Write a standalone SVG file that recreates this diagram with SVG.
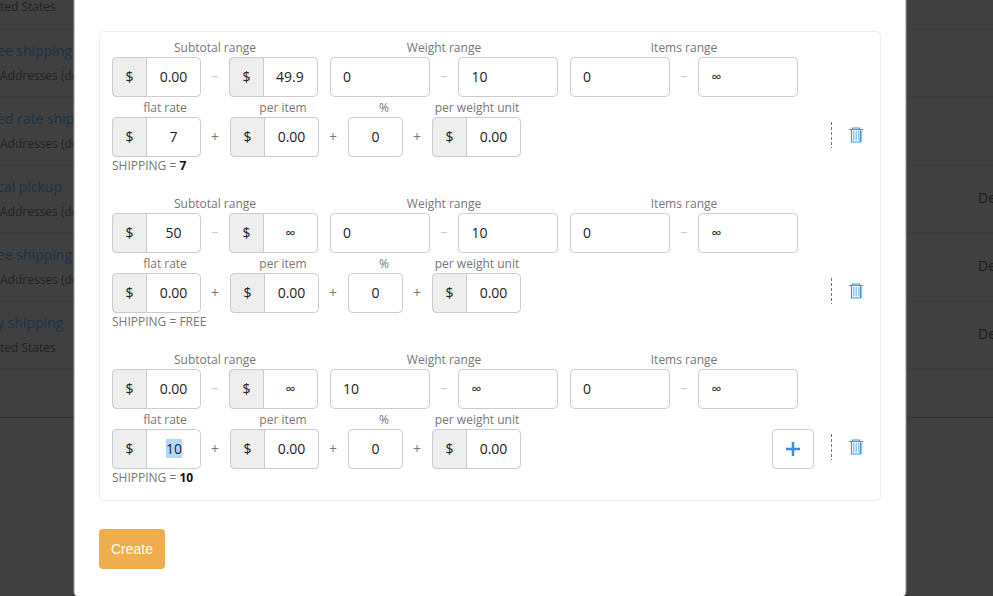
<svg xmlns="http://www.w3.org/2000/svg" width="993" height="596" viewBox="0 0 993 596">
<style>
text{font-family:"Open Sans","Noto Sans",sans-serif}
.bgl{font-size:14px;fill:#1a3347}
.bgs{font-size:12px;fill:#222}
.bgd{font-size:14px;fill:#1c1c1c}
.sep{stroke:#3a3a3a;stroke-width:1}
.lab{font-size:12px;fill:#777;text-anchor:middle}
.sh{font-size:12px;fill:#777}
.sh tspan{font-weight:700;fill:#111}
.v{font-size:14px;fill:#222;text-anchor:middle}
.vl{font-size:14px;fill:#222}
.inf{font-size:14px;fill:#222;text-anchor:middle}
.d{font-size:14px;fill:#ccc;text-anchor:middle}
.p{font-size:14px;fill:#777;text-anchor:middle}
.box{fill:#fff;stroke:#ccc;stroke-width:1}
.add{fill:#eee;stroke:#ccc;stroke-width:1}
.dash{stroke:#777;stroke-width:1;stroke-dasharray:3 2}
.tr{fill:none;stroke:#3f96e0;stroke-width:1.2}
.trf{fill:#8fc4ee}
</style>
<defs>
<g id="trash">
<path class="tr" d="M849 129.500H863M852.500 129V128H859.500V129M851.500 130V142H860.500V130"/>
<rect class="trf" x="853" y="131" width="1.500" height="9.500"/>
<rect class="trf" x="855.500" y="131" width="1.500" height="9.500"/>
<rect class="trf" x="858" y="131" width="1.500" height="9.500"/>
<rect class="trf" x="861" y="131" width="1.200" height="11"/>
</g>
</defs>
<rect width="993" height="596" fill="#404040"/>
<g id="background">
<path class="sep" d="M0 28.500H993M0 96.500H993M0 164.500H993M0 232.500H993M0 300.500H993M0 368.500H993"/>
<path d="M0 417.500H993" stroke="#333" stroke-width="1"/>
<text class="bgs" x="0" y="11">ted States</text>
<text class="bgl" x="-3" y="56">ee shipping</text>
<text class="bgs" x="0" y="80">Addresses (de</text>
<text class="bgl" x="-3" y="124">ed rate ship</text>
<text class="bgs" x="0" y="148">Addresses (de</text>
<text class="bgl" x="-3" y="192">cal pickup</text>
<text class="bgs" x="0" y="216">Addresses (de</text>
<text class="bgl" x="-3" y="260">ee shipping</text>
<text class="bgs" x="0" y="284">Addresses (de</text>
<text class="bgl" x="-3" y="328">y shipping</text>
<text class="bgs" x="0" y="352">ted States</text>
<text class="bgd" x="978" y="203">De</text>
<text class="bgd" x="978" y="271">De</text>
<text class="bgd" x="978" y="339">De</text>
</g>
<g id="modal">
<rect x="74" y="-20" width="832" height="617" rx="5" fill="#fff" stroke="#999" stroke-width="1"/>
<rect x="99.500" y="31.500" width="781" height="469" rx="4" fill="#fff" stroke="#eee"/>
</g>
<g id="connectors"></g>

<g id="row1">
<text class="lab" x="215" y="52">Subtotal range</text>
<text class="lab" x="444" y="52">Weight range</text>
<text class="lab" x="684" y="52">Items range</text>
<rect class="box" x="112.500" y="57.500" width="88" height="39" rx="4"/>
<path class="add" d="M146.500 57.500H116.500a4 4 0 0 0-4 4V92.500a4 4 0 0 0 4 4H146.500Z"/>
<text class="v" x="129.500" y="82">$</text>
<text class="v" x="173.500" y="82">0.00</text>
<text class="d" x="215" y="81">–</text>
<rect class="box" x="229.500" y="57.500" width="88" height="39" rx="4"/>
<path class="add" d="M263.500 57.500H233.500a4 4 0 0 0-4 4V92.500a4 4 0 0 0 4 4H263.500Z"/>
<text class="v" x="246.500" y="82">$</text>
<text class="vl" x="276" y="82">49.9</text>
<rect class="box" x="330.500" y="57.500" width="99" height="39" rx="4"/>
<text class="vl" x="343" y="82">0</text>
<text class="d" x="444" y="81">–</text>
<rect class="box" x="458.500" y="57.500" width="99" height="39" rx="4"/>
<text class="vl" x="471.500" y="82">10</text>
<rect class="box" x="570.500" y="57.500" width="99" height="39" rx="4"/>
<text class="vl" x="583" y="82">0</text>
<text class="d" x="684" y="81">–</text>
<rect class="box" x="698.500" y="57.500" width="99" height="39" rx="4"/>
<text class="inf" x="716.500" y="82">∞</text>
<text class="lab" x="165" y="112">flat rate</text>
<text class="lab" x="283" y="112">per item</text>
<text class="lab" x="384" y="112">%</text>
<text class="lab" x="477" y="112">per weight unit</text>
<rect class="box" x="112.500" y="117.500" width="88" height="39" rx="4"/>
<path class="add" d="M146.500 117.500H116.500a4 4 0 0 0-4 4V152.500a4 4 0 0 0 4 4H146.500Z"/>
<text class="v" x="129.500" y="142">$</text>
<text class="v" x="173.500" y="142">7</text>
<text class="p" x="215" y="142">+</text>
<rect class="box" x="230.500" y="117.500" width="88" height="39" rx="4"/>
<path class="add" d="M264.500 117.500H234.500a4 4 0 0 0-4 4V152.500a4 4 0 0 0 4 4H264.500Z"/>
<text class="v" x="247.500" y="142">$</text>
<text class="v" x="291.500" y="142">0.00</text>
<text class="p" x="333" y="142">+</text>
<rect class="box" x="348.500" y="117.500" width="54" height="39" rx="4"/>
<text class="v" x="375.500" y="142">0</text>
<text class="p" x="417" y="142">+</text>
<rect class="box" x="432.500" y="117.500" width="88" height="39" rx="4"/>
<path class="add" d="M466.500 117.500H436.500a4 4 0 0 0-4 4V152.500a4 4 0 0 0 4 4H466.500Z"/>
<text class="v" x="449.500" y="142">$</text>
<text class="v" x="493.500" y="142">0.00</text>
<text class="sh" x="112" y="170">SHIPPING = <tspan>7</tspan></text>
<path class="dash" d="M831.500 122V148"/>
<use href="#trash"/>
</g>

<g id="row2" transform="translate(0 156)">
<text class="lab" x="215" y="52">Subtotal range</text>
<text class="lab" x="444" y="52">Weight range</text>
<text class="lab" x="684" y="52">Items range</text>
<rect class="box" x="112.500" y="57.500" width="88" height="39" rx="4"/>
<path class="add" d="M146.500 57.500H116.500a4 4 0 0 0-4 4V92.500a4 4 0 0 0 4 4H146.500Z"/>
<text class="v" x="129.500" y="82">$</text>
<text class="v" x="173.500" y="82">50</text>
<text class="d" x="215" y="81">–</text>
<rect class="box" x="229.500" y="57.500" width="88" height="39" rx="4"/>
<path class="add" d="M263.500 57.500H233.500a4 4 0 0 0-4 4V92.500a4 4 0 0 0 4 4H263.500Z"/>
<text class="v" x="246.500" y="82">$</text>
<text class="inf" x="290.500" y="82">∞</text>
<rect class="box" x="330.500" y="57.500" width="99" height="39" rx="4"/>
<text class="vl" x="343" y="82">0</text>
<text class="d" x="444" y="81">–</text>
<rect class="box" x="458.500" y="57.500" width="99" height="39" rx="4"/>
<text class="vl" x="471.500" y="82">10</text>
<rect class="box" x="570.500" y="57.500" width="99" height="39" rx="4"/>
<text class="vl" x="583" y="82">0</text>
<text class="d" x="684" y="81">–</text>
<rect class="box" x="698.500" y="57.500" width="99" height="39" rx="4"/>
<text class="inf" x="716.500" y="82">∞</text>
<text class="lab" x="165" y="112">flat rate</text>
<text class="lab" x="283" y="112">per item</text>
<text class="lab" x="384" y="112">%</text>
<text class="lab" x="477" y="112">per weight unit</text>
<rect class="box" x="112.500" y="117.500" width="88" height="39" rx="4"/>
<path class="add" d="M146.500 117.500H116.500a4 4 0 0 0-4 4V152.500a4 4 0 0 0 4 4H146.500Z"/>
<text class="v" x="129.500" y="142">$</text>
<text class="v" x="173.500" y="142">0.00</text>
<text class="p" x="215" y="142">+</text>
<rect class="box" x="230.500" y="117.500" width="88" height="39" rx="4"/>
<path class="add" d="M264.500 117.500H234.500a4 4 0 0 0-4 4V152.500a4 4 0 0 0 4 4H264.500Z"/>
<text class="v" x="247.500" y="142">$</text>
<text class="v" x="291.500" y="142">0.00</text>
<text class="p" x="333" y="142">+</text>
<rect class="box" x="348.500" y="117.500" width="54" height="39" rx="4"/>
<text class="v" x="375.500" y="142">0</text>
<text class="p" x="417" y="142">+</text>
<rect class="box" x="432.500" y="117.500" width="88" height="39" rx="4"/>
<path class="add" d="M466.500 117.500H436.500a4 4 0 0 0-4 4V152.500a4 4 0 0 0 4 4H466.500Z"/>
<text class="v" x="449.500" y="142">$</text>
<text class="v" x="493.500" y="142">0.00</text>
<text class="sh" x="112" y="170">SHIPPING = FREE</text>
<path class="dash" d="M831.500 122V148"/>
<use href="#trash"/>
</g>

<g id="row3" transform="translate(0 312)">
<text class="lab" x="215" y="52">Subtotal range</text>
<text class="lab" x="444" y="52">Weight range</text>
<text class="lab" x="684" y="52">Items range</text>
<rect class="box" x="112.500" y="57.500" width="88" height="39" rx="4"/>
<path class="add" d="M146.500 57.500H116.500a4 4 0 0 0-4 4V92.500a4 4 0 0 0 4 4H146.500Z"/>
<text class="v" x="129.500" y="82">$</text>
<text class="v" x="173.500" y="82">0.00</text>
<text class="d" x="215" y="81">–</text>
<rect class="box" x="229.500" y="57.500" width="88" height="39" rx="4"/>
<path class="add" d="M263.500 57.500H233.500a4 4 0 0 0-4 4V92.500a4 4 0 0 0 4 4H263.500Z"/>
<text class="v" x="246.500" y="82">$</text>
<text class="inf" x="290.500" y="82">∞</text>
<rect class="box" x="330.500" y="57.500" width="99" height="39" rx="4"/>
<text class="vl" x="343" y="82">10</text>
<text class="d" x="444" y="81">–</text>
<rect class="box" x="458.500" y="57.500" width="99" height="39" rx="4"/>
<text class="inf" x="476.500" y="82">∞</text>
<rect class="box" x="570.500" y="57.500" width="99" height="39" rx="4"/>
<text class="vl" x="583" y="82">0</text>
<text class="d" x="684" y="81">–</text>
<rect class="box" x="698.500" y="57.500" width="99" height="39" rx="4"/>
<text class="inf" x="716.500" y="82">∞</text>
<text class="lab" x="165" y="112">flat rate</text>
<text class="lab" x="283" y="112">per item</text>
<text class="lab" x="384" y="112">%</text>
<text class="lab" x="477" y="112">per weight unit</text>
<rect class="box" x="112.500" y="117.500" width="88" height="39" rx="4" style="stroke:#c5d2dd"/>
<path class="add" d="M146.500 117.500H116.500a4 4 0 0 0-4 4V152.500a4 4 0 0 0 4 4H146.500Z" style="stroke:#c5ccd2"/>
<rect x="166" y="127" width="16" height="19" fill="#b3d7ff"/>
<text class="v" x="129.500" y="142">$</text>
<text class="v" x="174" y="142">10</text>
<text class="p" x="215" y="142">+</text>
<rect class="box" x="230.500" y="117.500" width="88" height="39" rx="4"/>
<path class="add" d="M264.500 117.500H234.500a4 4 0 0 0-4 4V152.500a4 4 0 0 0 4 4H264.500Z"/>
<text class="v" x="247.500" y="142">$</text>
<text class="v" x="291.500" y="142">0.00</text>
<text class="p" x="333" y="142">+</text>
<rect class="box" x="348.500" y="117.500" width="54" height="39" rx="4"/>
<text class="v" x="375.500" y="142">0</text>
<text class="p" x="417" y="142">+</text>
<rect class="box" x="432.500" y="117.500" width="88" height="39" rx="4"/>
<path class="add" d="M466.500 117.500H436.500a4 4 0 0 0-4 4V152.500a4 4 0 0 0 4 4H466.500Z"/>
<text class="v" x="449.500" y="142">$</text>
<text class="v" x="493.500" y="142">0.00</text>
<text class="sh" x="112" y="170">SHIPPING = <tspan>10</tspan></text>
<rect class="box" x="772.500" y="117.500" width="41" height="39" rx="4"/>
<path d="M786 137H800M793 130V144" stroke="#3a8fd8" stroke-width="2.500" fill="none"/>
<path class="dash" d="M831.500 122V148"/>
<use href="#trash"/>
</g>

<g id="create">
<rect x="99" y="529" width="66" height="40" rx="4" fill="#f0ad4e"/>
<text x="132" y="554" font-size="14" text-anchor="middle" fill="#fff" style="font-family:'Liberation Sans',Arial,sans-serif">Create</text>
</g>
</svg>
